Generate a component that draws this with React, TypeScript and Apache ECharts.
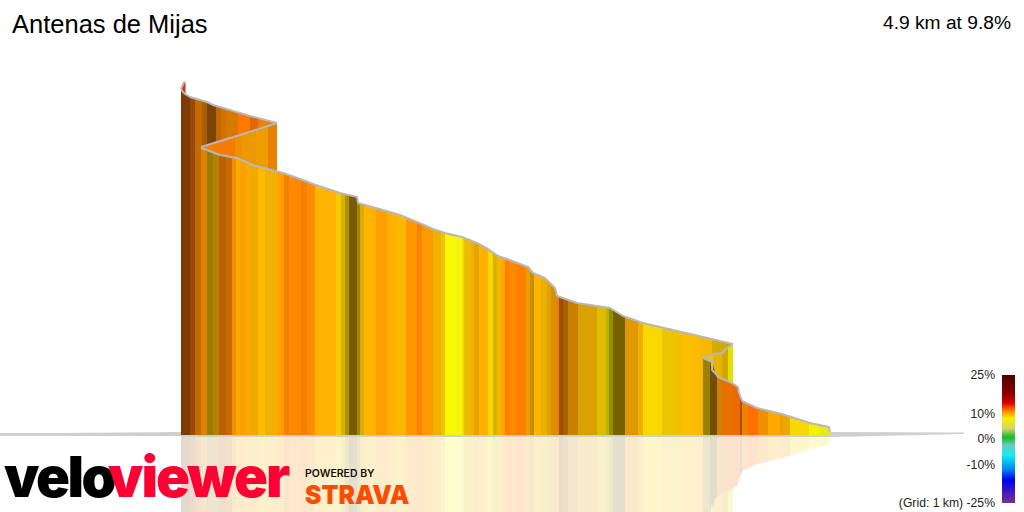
import React, { useEffect, useRef } from "react";
import * as echarts from "echarts";

const titleText = "Antenas de Mijas";
const summaryText = "4.9 km at 9.8%";
const gridLabel = "(Grid: 1 km) -25%";
const scaleLabels = ["25%", "10%", "0%", "-10%"];

// [position along the projected route, projected elevation]
const tipProfile = [[181, 347], [184, 354], [185.5, 353]];
const tipEdges = [181, 185.5];
const tipColors = ["#d83008"];

const upperProfile = [[181, 347], [183, 344], [185, 342], [190, 339], [207, 334], [213, 331], [230, 326], [250, 320], [277, 313]];
const upperEdges = [181, 190, 195, 202, 207, 216, 221, 226, 238, 250, 258, 263, 272, 277];
const upperColors = ["#7f3a05", "#96490a", "#c46a02", "#a85f00", "#7a4405", "#c06800", "#d47000", "#d87800", "#ff7800", "#e06800", "#e88000", "#f08000", "#e07800"];

const turnProfile = [[277, 313], [240, 301], [201, 289]];
const turnEdges = [201, 213, 235, 242, 248, 256, 268, 277];
const turnColors = ["#f08000", "#f57c00", "#f09000", "#f09800", "#e89800", "#ee9c00", "#e88000"];

const mainProfile = [[201, 288], [207, 286], [220, 281], [237, 278], [253, 271], [283, 263], [303, 256], [313, 252], [340, 243], [357, 239], [358, 233], [383, 226], [400, 221], [417, 214], [433, 207], [445, 203], [462, 199], [477, 193], [488, 187], [498, 180], [507, 177], [528, 169], [533, 163], [545, 158], [555, 148], [557, 140], [577, 133], [610, 128], [623, 120], [643, 113], [733, 92]];
const mainEdges = [201, 207, 213, 219, 226, 232, 236, 240, 245, 250, 258, 265, 277, 284, 289, 294, 301, 307, 315, 336, 341, 345, 349, 357, 360, 364, 376, 387, 397, 406, 417, 422, 433, 441, 445, 454, 462, 464, 471, 474, 479, 488, 493, 497, 501, 505, 510, 516, 526, 530, 534, 541, 547, 551, 556, 559, 563, 568, 578, 597, 606, 609, 613, 625, 638, 643, 662, 676, 681, 685, 692, 700, 712, 726, 733];
const mainColors = ["#e08000", "#9a7a08", "#b87f05", "#b86008", "#c86a00", "#f09000", "#ffa800", "#f8a200", "#fca800", "#f0ab00", "#ffbb00", "#f2b000", "#ff9f00", "#f57f00", "#ff8a00", "#ff8800", "#f58000", "#ff8c00", "#ffb400", "#f2cc00", "#dcb000", "#b09000", "#7a5a00", "#a08500", "#dcaa00", "#ffb400", "#ffa000", "#ffb000", "#ffb800", "#ff9800", "#ff8000", "#ff9a00", "#f0b000", "#f5c000", "#f8f800", "#f5f510", "#f0e000", "#ecbc00", "#f4b000", "#e6a400", "#ffb000", "#f5d800", "#d8b400", "#f0b800", "#ffa800", "#ff8000", "#ff8a00", "#ff8000", "#e8a000", "#c49000", "#ffb400", "#eab000", "#e0a000", "#d89000", "#f08000", "#985000", "#a86000", "#c88000", "#d8a000", "#e0bc00", "#bcb000", "#909000", "#786000", "#e09800", "#f0b000", "#f8d800", "#ecc400", "#f0c000", "#f8c000", "#fac000", "#ffbb00", "#f8b800", "#d4ac00", "#c8a800"];

const returnProfile = [[733, 92], [727, 88], [722, 83], [715, 82], [703, 78]];
const returnEdges = [703, 713, 722, 728, 733];
const returnColors = ["#f8c000", "#e8b400", "#d0a800", "#e6e000"];

const finalProfile = [[703, 78], [710, 75], [713, 73], [712, 66], [715, 63], [718, 59], [732, 53], [738, 49], [739, 43], [742, 35], [757, 28], [782, 22], [810, 13], [829, 9], [830, 4]];
const finalEdges = [703, 710, 717, 722, 733, 740, 742, 748, 758, 768, 780, 783, 790, 802, 809, 820, 830];
const finalColors = ["#9c8000", "#705000", "#d08000", "#e87000", "#f06800", "#a85008", "#f08000", "#ff7000", "#f09000", "#ffa800", "#f09c00", "#e8a800", "#f8d800", "#f5d800", "#f4f000", "#e8e820"];

const sections = [
  { profile: tipProfile, edges: tipEdges, colors: tipColors },
  { profile: upperProfile, edges: upperEdges, colors: upperColors },
  { profile: turnProfile, edges: turnEdges, colors: turnColors },
  { profile: mainProfile, edges: mainEdges, colors: mainColors },
  { profile: returnProfile, edges: returnEdges, colors: returnColors },
  { profile: finalProfile, edges: finalEdges, colors: finalColors },
];

const groundLeft = [[0, 3], [60, 3], [181, 4], [181, 0], [0, 0]];
const groundMiddle = [[181, 1], [830, 1], [830, -1], [181, -1]];
const groundRight = [[830, 4], [964, 3.5], [964, 2], [900, 0.5], [830, -1]];

const scaleStops: [number, string][] = [
  [0, "#4a0000"], [0.15, "#8c0000"], [0.22, "#e00000"], [0.28, "#ff8000"], [0.34, "#f5f000"],
  [0.42, "#d8d070"], [0.485, "#10c020"], [0.55, "#70c8c0"], [0.625, "#10f0f0"], [0.74, "#0080f0"],
  [0.82, "#0000f0"], [1, "#7a3090"],
];

const REFLECTION = 0.2;

function tint(hex: string) {
  const v = parseInt(hex.slice(1), 16);
  const mix = (c: number) => Math.round(255 + (c - 255) * REFLECTION);
  return `rgb(${mix((v >> 16) & 255)},${mix((v >> 8) & 255)},${mix(v & 255)})`;
}

function elevationAt(sorted: number[][], x: number) {
  if (x <= sorted[0][0]) return sorted[0][1];
  for (let i = 1; i < sorted.length; i++) {
    if (x <= sorted[i][0]) {
      const [x0, y0] = sorted[i - 1];
      const [x1, y1] = sorted[i];
      return x1 === x0 ? y1 : y0 + ((y1 - y0) * (x - x0)) / (x1 - x0);
    }
  }
  return sorted[sorted.length - 1][1];
}

function stripSeries(section: (typeof sections)[number], mirror: boolean) {
  const sorted = [...section.profile].sort((a, b) => a[0] - b[0]);
  return {
    type: "custom",
    silent: true,
    coordinateSystem: "cartesian2d",
    encode: { x: [0, 1] },
    data: section.colors.map((_, i) => [section.edges[i], section.edges[i + 1]]),
    renderItem: (params: any, api: any) => {
      const x0 = api.value(0);
      const x1 = api.value(1);
      const sign = mirror ? -1 : 1;
      const base = mirror ? -1 : 1;
      const top = [[x0, elevationAt(sorted, x0)]]
        .concat(sorted.filter((p) => p[0] > x0 && p[0] < x1))
        .concat([[x1, elevationAt(sorted, x1)]]);
      const pts = top.map((p) => api.coord([p[0], sign * p[1]]));
      const last = pts[pts.length - 1];
      const isLast = params.dataIndex === section.colors.length - 1;
      const lead = isLast ? 0 : 0.6;
      pts[pts.length - 1] = [last[0] + lead, last[1]];
      const b0 = api.coord([x0, base]);
      const b1 = api.coord([x1, base]);
      pts.push([b1[0] + lead, b1[1]], b0);
      const color = section.colors[params.dataIndex];
      return {
        type: "polygon",
        shape: { points: pts },
        style: { fill: mirror ? tint(color) : color, stroke: null },
      };
    },
  };
}

function outlineSeries(profile: number[][]) {
  return {
    type: "line",
    silent: true,
    data: profile,
    symbol: "none",
    lineStyle: { color: "#b6b8bb", width: 2 },
  };
}

function groundSeries(shape: number[][], color: string) {
  return {
    type: "custom",
    silent: true,
    coordinateSystem: "cartesian2d",
    data: [shape[0]],
    renderItem: (_: any, api: any) => ({
      type: "polygon",
      shape: { points: shape.map((p) => api.coord(p)) },
      style: { fill: color, stroke: null },
    }),
  };
}

const label = (text: string, x: number, y: number, font: string, fill: string, align = "left", extra: any = {}) => ({
  type: "text",
  z: 100,
  x,
  y,
  ...extra,
  style: { text, font, fill, textAlign: align, textVerticalAlign: "middle" },
});

const logoSpacing: Record<string, string> = { velo: "-2.5", viewer: "-2" };

export default function App() {
  const ref = useRef<HTMLDivElement>(null);
  useEffect(() => {
    document.body.style.margin = "0";
    const chart = echarts.init(ref.current!, null, { renderer: "svg" });
    const sans = '"Liberation Sans", Arial, sans-serif';
    const series: any[] = [];
    sections.forEach((s) => series.push(stripSeries(s, true)));
    series.push(groundSeries(groundLeft, "#cfcfcf"), groundSeries(groundMiddle, "#cfcfcf"), groundSeries(groundRight, "#cfcfcf"));
    sections.forEach((s) => {
      series.push(stripSeries(s, false));
      series.push(outlineSeries(s.profile));
    });
    chart.setOption({
      animation: false,
      backgroundColor: "#ffffff",
      grid: { left: 0, right: 0, top: 0, bottom: 0 },
      xAxis: { type: "value", min: 0, max: 1024, show: false },
      yAxis: { type: "value", min: -76, max: 436, show: false },
      series,
      graphic: [
        label(titleText, 12, 24, `25.5px ${sans}`, "#000"),
        label(summaryText, 1011, 22, `19.2px ${sans}`, "#000", "right"),
        label(scaleLabels[0], 995, 375, `12.2px ${sans}`, "#222", "right"),
        label(scaleLabels[1], 995, 414, `12.2px ${sans}`, "#222", "right"),
        label(scaleLabels[2], 995, 439, `12.2px ${sans}`, "#222", "right"),
        label(scaleLabels[3], 995, 465, `12.2px ${sans}`, "#222", "right"),
        label(gridLabel, 995, 503, `12.2px ${sans}`, "#222", "right"),
        {
          type: "rect",
          z: 100,
          shape: { x: 1002, y: 375, width: 13, height: 128 },
          style: {
            fill: new echarts.graphic.LinearGradient(0, 0, 0, 1, scaleStops.map(([offset, color]) => ({ offset, color }))),
          },
        },
        label("velo", 4, 477, '900 56px Inter', "#000", "left"),
        label("viewer", 108, 477, '900 56px Inter', "#ff0033", "left"),
        label("POWERED BY", 305, 473, '600 10px Inter', "#111", "left", { scaleX: 1.05 }),
        label("STRAVA", 305, 494, '900 26px Inter', "#fc4c02", "left", { scaleX: 0.95 }),
      ],
    });
    ref.current!.querySelectorAll("text").forEach((node) => {
      const spacing = logoSpacing[node.textContent ?? ""];
      if (spacing) node.setAttribute("letter-spacing", spacing);
    });
    return () => chart.dispose();
  }, []);
  return <div ref={ref} style={{ width: 1024, height: 512, position: "fixed", left: 0, top: 0 }} />;
}
